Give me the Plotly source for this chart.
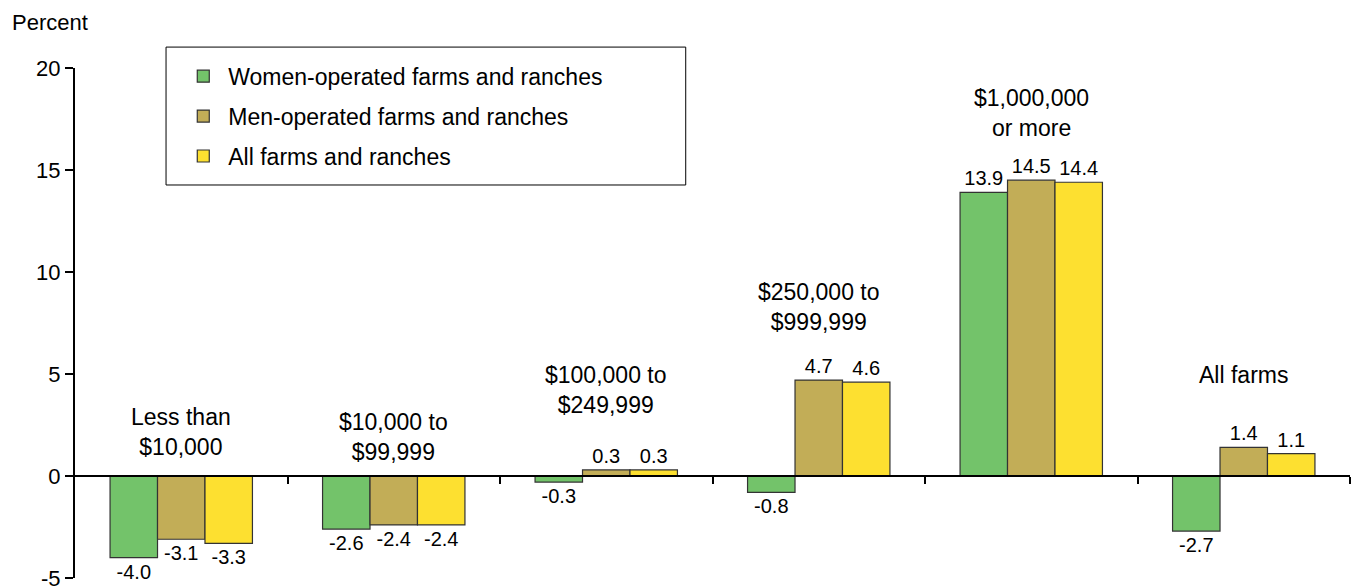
import plotly.graph_objects as go

categories = ["Less than<br>$10,000", "$10,000 to<br>$99,999", "$100,000 to<br>$249,999",
              "$250,000 to<br>$999,999", "$1,000,000<br>or more", "All farms"]
label_heights = [2.15, 1.9, 4.2, 8.3, 17.8, 4.95]
women = [-4.0, -2.6, -0.3, -0.8, 13.9, -2.7]
men = [-3.1, -2.4, 0.3, 4.7, 14.5, 1.4]
all_farms = [-3.3, -2.4, 0.3, 4.6, 14.4, 1.1]
series_names = ["Women-operated farms and ranches", "Men-operated farms and ranches", "All farms and ranches"]
colors = ["#73C36A", "#C2AD57", "#FDE030"]
y_ticks = [-5, 0, 5, 10, 15, 20]
y_tick_text = ["-5", "0", "5", "10", "15", "20"]

FONT = "Liberation Sans, Arial, sans-serif"
xpos = list(range(len(categories)))

fig = go.Figure()
for k, (name, vals, col) in enumerate(zip(series_names, [women, men, all_farms], colors)):
    fig.add_trace(go.Bar(
        x=xpos, y=vals, name=name, legendgroup=f"g{k}",
        marker=dict(color=col, line=dict(color="#333333", width=1.2)),
        text=[f"{v:.1f}" for v in vals], textposition="outside",
        textfont=dict(size=20, color="black", family=FONT),
        constraintext="none", cliponaxis=False,
    ))

for i, (c, h) in enumerate(zip(categories, label_heights)):
    fig.add_annotation(x=i, y=h, text=c, showarrow=False, xref="x", yref="y",
                       font=dict(size=23, color="black", family=FONT))

fig.add_annotation(x=-0.051, y=1.0, xref="paper", yref="paper", xanchor="left", yanchor="middle",
                   text="Percent", showarrow=False, yshift=46,
                   font=dict(size=22, color="black", family=FONT))

# legend frame
fig.add_shape(type="rect", xref="paper", yref="paper",
              x0=0.0714, x1=0.479, y0=0.7706, y1=1.041,
              line=dict(color="black", width=1), fillcolor="rgba(0,0,0,0)", layer="below")

fig.update_layout(
    width=1356, height=588,
    margin=dict(l=75, r=6, t=68, b=10, autoexpand=False),
    plot_bgcolor="white", paper_bgcolor="white",
    barmode="group", bargap=0.33, bargroupgap=0,
    font=dict(family=FONT, color="black"),
    showlegend=True,
    legend=dict(x=0.081, y=1.026, xanchor="left", yanchor="top",
                bgcolor="rgba(0,0,0,0)", borderwidth=0,
                font=dict(size=23, color="black", family=FONT),
                tracegroupgap=7, itemwidth=40),
    xaxis=dict(range=[-0.5, 5.5], anchor="free", position=0.2,
               showline=True, linecolor="black", linewidth=2,
               tickvals=[0.5, 1.5, 2.5, 3.5, 4.5, 5.5], ticks="outside", ticklen=7,
               tickcolor="black", tickwidth=2, showticklabels=False,
               showgrid=False, zeroline=False, automargin=False),
    yaxis=dict(range=[-5, 20], tickvals=y_ticks, ticktext=y_tick_text,
               ticks="outside", ticklen=8,
               tickcolor="black", tickwidth=2, showline=True, linecolor="black",
               linewidth=2, showgrid=False, zeroline=False, ticklabeloverflow="allow",
               automargin=False,
               tickfont=dict(size=22, color="black", family=FONT)),
)

fig.write_html("out.html", post_script="document.body.style.margin='0';",
               config={"displayModeBar": False})
